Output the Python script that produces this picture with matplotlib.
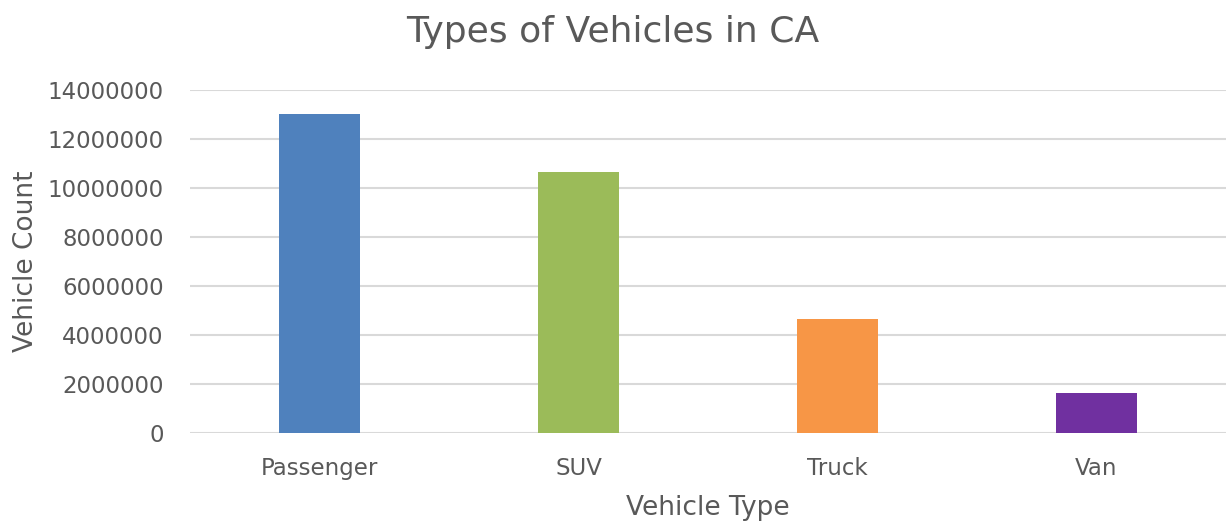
import matplotlib.pyplot as plt

# Vehicle counts
types = ["Passenger", "SUV", "Truck", "Van"]
counts = [13000000, 10650000, 4650000, 1630000]
colors = ["#4F81BD", "#9BBB59", "#F79646", "#7030A0"]
yticks = list(range(0, 14000001, 2000000))

txt = "#595959"

fig = plt.figure(figsize=(12.26, 5.25), dpi=100)
ax = fig.add_axes([0.155, 0.175, 0.845, 0.654])

ax.bar(range(len(types)), counts, width=0.315, color=colors, zorder=3)

ax.set_xlim(-0.5, len(types) - 0.5)
ax.set_ylim(0, 14000000)
ax.set_yticks(yticks)
ax.set_yticklabels([str(v) for v in yticks])
ax.set_xticks(range(len(types)))
ax.set_xticklabels(types)

ax.grid(axis="y", color="#D9D9D9", linewidth=1.5, zorder=0)
for s in ax.spines.values():
    s.set_visible(False)
ax.tick_params(length=0, colors=txt, labelsize=16.5)
ax.tick_params(axis="y", pad=19)
ax.tick_params(axis="x", pad=17)

ax.set_xlabel("Vehicle Type", fontsize=19, color=txt, labelpad=11)
ax.set_ylabel("Vehicle Count", fontsize=19, color=txt, labelpad=6)
fig.suptitle("Types of Vehicles in CA", fontsize=26, color=txt, x=0.5, y=0.972)

fig.savefig("out.png", dpi=100)
